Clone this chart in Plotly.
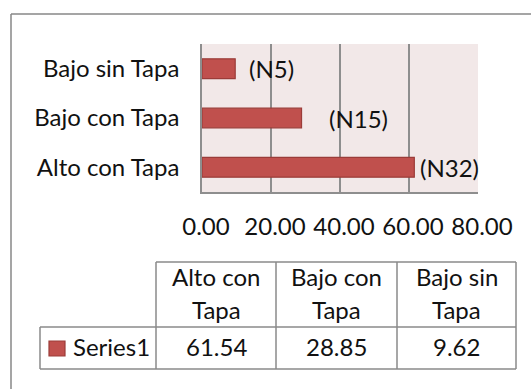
import plotly.graph_objects as go

# Data
categories = ["Alto con Tapa", "Bajo con Tapa", "Bajo sin Tapa"]
values = [61.54, 28.85, 9.62]
bar_labels = ["(N32)", "(N15)", "(N5)"]
label_x = [62.6, 36.2, 13.0]          # where each count label starts, in axis units
series_name = "Series1"
tick_values = [0, 20, 40, 60, 80]
tick_text = ["0.00", "20.00", "40.00", "60.00", "80.00"]

W, H = 531, 389
FONT = "Lato"
FS = 24
TXT = "#111111"
BAR = "#C0504D"
BAR_EDGE = "#9B3C39"
GRID = "#8E8E8E"
PLOT_BG = "#F2E8E8"


def px(x):
    return x / W


def py(y):
    return 1 - y / H


fig = go.Figure()
fig.add_trace(go.Bar(
    y=categories, x=values, orientation="h", name=series_name,
    marker=dict(color=BAR, line=dict(color=BAR_EDGE, width=1.2)),
    width=0.4, showlegend=False, hoverinfo="skip",
))

shapes = []
annotations = []

frame_style = dict(color="#878787", width=1.5)
# outer chart frame: top and left edges (the rest runs off the page)
shapes.append(dict(type="line", xref="paper", yref="paper",
                   x0=px(11), x1=px(560), y0=py(14), y1=py(14), line=frame_style))
shapes.append(dict(type="line", xref="paper", yref="paper",
                   x0=px(11), x1=px(11), y0=py(14), y1=py(420), line=frame_style))

# count labels next to the bars
for cat, lab, lx in zip(categories, bar_labels, label_x):
    annotations.append(dict(x=lx, y=cat, xref="x", yref="y", text=lab,
                            xanchor="left", yanchor="middle", showarrow=False,
                            font=dict(family=FONT, size=FS, color=TXT)))

# data table under the chart
col_edges = [156, 276, 397, 516]
head_top, row_top, row_bot = 262, 327, 369
legend_left = 40
line_style = dict(color="#8A8A8A", width=1.5)


def hline(x0, x1, y):
    shapes.append(dict(type="line", xref="paper", yref="paper",
                       x0=px(x0), x1=px(x1), y0=py(y), y1=py(y), line=line_style))


def vline(x, y0, y1):
    shapes.append(dict(type="line", xref="paper", yref="paper",
                       x0=px(x), x1=px(x), y0=py(y0), y1=py(y1), line=line_style))


hline(col_edges[0], col_edges[-1], head_top)
hline(legend_left, col_edges[-1], row_top)
hline(legend_left, col_edges[-1], row_bot)
for cx in col_edges:
    vline(cx, head_top, row_bot)
vline(legend_left, row_top, row_bot)

for i, (cat, val) in enumerate(zip(categories, values)):
    cx = (col_edges[i] + col_edges[i + 1]) / 2
    first, second = cat.rsplit(" ", 1)
    for txt, ty in ((first, 276), (second, 309)):
        annotations.append(dict(x=px(cx), y=py(ty), xref="paper", yref="paper",
                                text=txt, showarrow=False, xanchor="center",
                                yanchor="middle",
                                font=dict(family=FONT, size=FS, color=TXT)))
    annotations.append(dict(x=px(cx), y=py(346.5), xref="paper", yref="paper",
                            text=f"{val:.2f}", showarrow=False, xanchor="center",
                            yanchor="middle",
                            font=dict(family=FONT, size=FS, color=TXT)))

# legend key inside the table
shapes.append(dict(type="rect", xref="paper", yref="paper",
                   x0=px(49), x1=px(65), y0=py(341), y1=py(356),
                   fillcolor=BAR, line=dict(color=BAR_EDGE, width=1.2)))
annotations.append(dict(x=px(71), y=py(346.5), xref="paper", yref="paper",
                        text=series_name, showarrow=False, xanchor="left",
                        yanchor="middle",
                        font=dict(family=FONT, size=FS, color=TXT)))

fig.update_layout(
    width=W, height=H,
    margin=dict(l=0, r=0, t=0, b=0, autoexpand=False),
    paper_bgcolor="white",
    plot_bgcolor=PLOT_BG,
    font=dict(family=FONT, size=FS, color=TXT),
    shapes=shapes,
    annotations=annotations,
    xaxis=dict(
        domain=[px(202), px(478)], range=[0, 80],
        tickvals=tick_values, ticktext=tick_text,
        showgrid=True, gridcolor=GRID, gridwidth=1.5,
        zeroline=False, showline=True, linecolor=GRID, linewidth=1.5,
        ticks="", ticklabelstandoff=12, ticklabelshift=4,
        tickfont=dict(family=FONT, size=FS, color=TXT),
        automargin=False, fixedrange=True,
    ),
    yaxis=dict(
        domain=[py(192), py(44)],
        categoryorder="array", categoryarray=categories,
        showgrid=False, zeroline=False,
        showline=True, linecolor=GRID, linewidth=1.5,
        ticks="", ticklabelstandoff=16,
        tickfont=dict(family=FONT, size=FS, color=TXT),
        automargin=False, fixedrange=True,
    ),
)

fig.write_html("out.html")
